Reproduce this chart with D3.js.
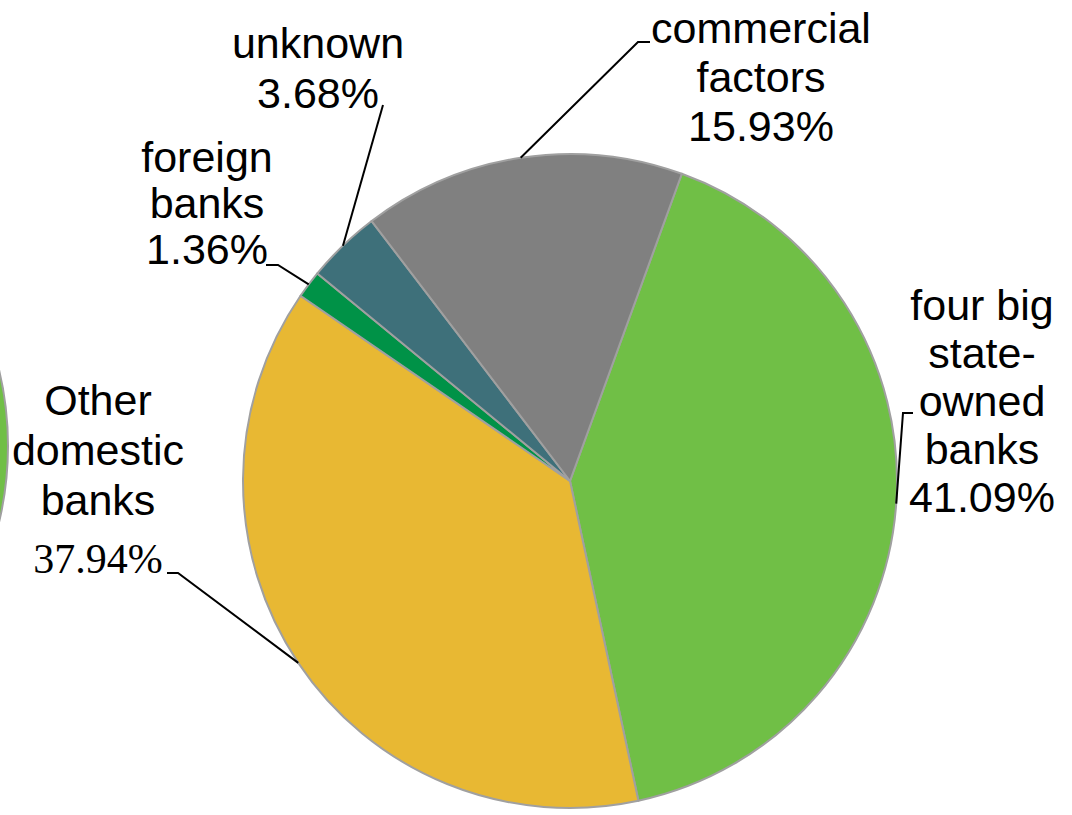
<!DOCTYPE html>
<html>
<head>
<meta charset="utf-8">
<script src="https://cdn.jsdelivr.net/npm/d3@7"></script>
<style>
  html, body { margin: 0; padding: 0; background: #ffffff; }
  svg { display: block; }
</style>
</head>
<body>
<svg id="chart" width="1072" height="815"></svg>
<script>
// Shares of lending by source (percent)
const categories = ["four big state-owned banks", "Other domestic banks", "foreign banks", "unknown", "commercial factors"];
const shares = [41.09, 37.94, 1.36, 3.68, 15.93];
const labelLines = [
  ["four big", "state-", "owned", "banks"],
  ["Other", "domestic", "banks"],
  ["foreign", "banks"],
  ["unknown"],
  ["commercial", "factors"]
];
const sliceColors = ["#70bf46", "#e8b833", "#009247", "#3e707a", "#808080"];

const width = 1072, height = 815;
const cx = 570, cy = 481, radius = 327;
const rotation = 20 * Math.PI / 180;   // angle of first slice
const fontSize = 43;

const svg = d3.select("#chart");

// edge of the neighbouring pie, cut off at the left border
svg.append("circle")
  .attr("cx", -319).attr("cy", 446).attr("r", radius)
  .attr("fill", sliceColors[0])
  .attr("stroke", "#a0a0a0").attr("stroke-width", 2);

const data = categories.map((c, i) => ({ category: c, value: shares[i], lines: labelLines[i], color: sliceColors[i] }));

const pie = d3.pie().sort(null).value(d => d.value)
  .startAngle(rotation).endAngle(rotation + 2 * Math.PI);
const arcs = pie(data);
const arc = d3.arc().innerRadius(0).outerRadius(radius);

const g = svg.append("g").attr("transform", `translate(${cx},${cy})`);
g.selectAll("path.slice").data(arcs).join("path")
  .attr("class", "slice")
  .attr("d", arc)
  .attr("fill", d => d.data.color)
  .attr("stroke", "#a0a0a0")
  .attr("stroke-width", 2)
  .attr("stroke-linejoin", "round");

// label placement: text centre x, first baseline, line gap, leader elbow/end
const labelLayout = {
  "four big state-owned banks": { x: 982, y: 320, gap: 48, elbow: [903, 413], end: [913, 413] },
  "Other domestic banks":       { x: 98,  y: 415, gap: 50, valueY: 573, elbow: [178, 573], end: [167, 573], serifValue: true },
  "foreign banks":              { x: 207, y: 172, gap: 46, elbow: [278, 265], end: [266, 265] },
  "unknown":                    { x: 318, y: 58,  gap: 50, elbow: [383, 105], end: null },
  "commercial factors":         { x: 761, y: 43,  gap: 49, elbow: [638, 42],  end: [650, 42] }
};

const fmt = d3.format(".2f");

arcs.forEach(a => {
  const L = labelLayout[a.data.category];
  const mid = (a.startAngle + a.endAngle) / 2;
  const px = cx + radius * Math.sin(mid);
  const py = cy - radius * Math.cos(mid);
  const pts = [[px, py], L.elbow];
  if (L.end) pts.push(L.end);
  svg.append("path")
    .attr("d", d3.line()(pts))
    .attr("fill", "none")
    .attr("stroke", "#000")
    .attr("stroke-width", 2);

  const t = svg.append("text")
    .attr("text-anchor", "middle")
    .attr("font-family", "'Liberation Sans', Arial, sans-serif")
    .attr("font-size", fontSize)
    .attr("fill", "#000");
  a.data.lines.forEach((ln, i) => {
    t.append("tspan").attr("x", L.x).attr("y", L.y + i * L.gap).text(ln);
  });
  svg.append("text")
    .attr("text-anchor", "middle")
    .attr("x", L.x)
    .attr("y", L.valueY != null ? L.valueY : L.y + a.data.lines.length * L.gap)
    .attr("font-size", L.serifValue ? 42 : fontSize)
    .attr("font-family", L.serifValue ? "'Liberation Serif', 'Times New Roman', serif" : "'Liberation Sans', Arial, sans-serif")
    .attr("fill", "#000")
    .text(fmt(a.data.value) + "%");
});
</script>
</body>
</html>
